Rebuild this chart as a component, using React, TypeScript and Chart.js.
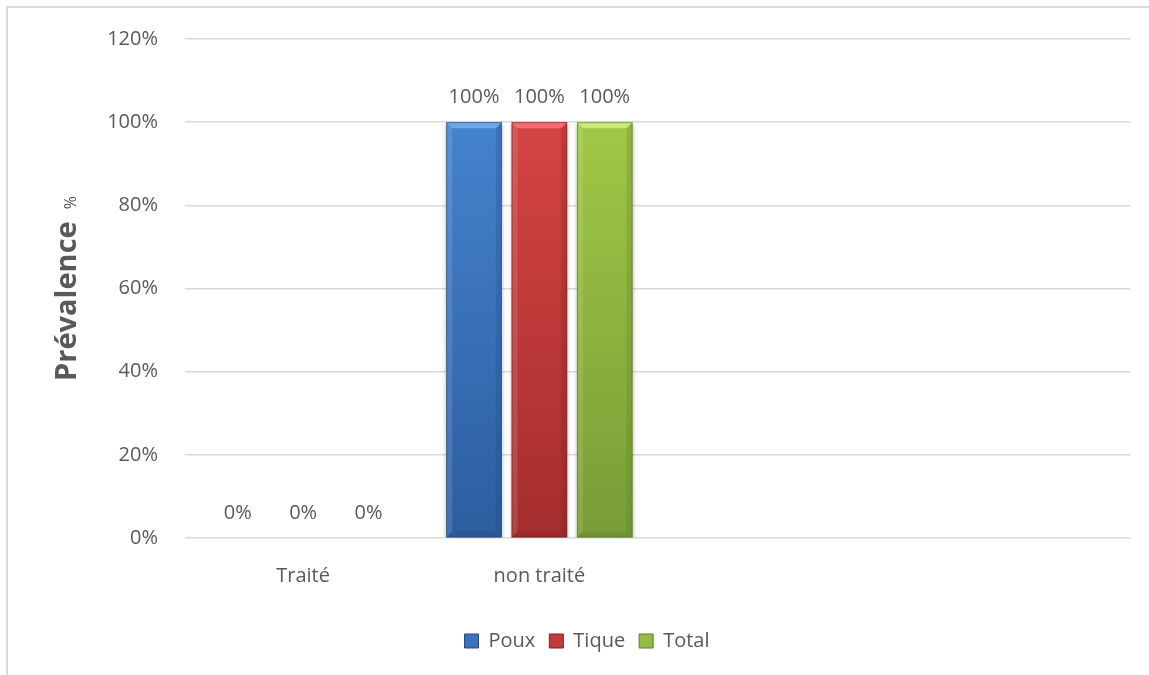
import React, { useEffect, useRef } from "react";
import { Chart, registerables } from "chart.js";

Chart.register(...registerables);

// ---- data ----
const categories = ["Traité", "non traité", "", ""];
const seriesNames = ["Poux", "Tique", "Total"];
const pouxValues = [0, 100, null, null];
const tiqueValues = [0, 100, null, null];
const totalValues = [0, 100, null, null];
const yMin = 0;
const yMax = 120;
const yStep = 20;
const yTitle = "Prévalence";
const yTitleUnit = "%";

// ---- styles ----
const FONT = "'Open Sans', 'Liberation Sans', sans-serif";
const TEXT = "#595959";
const FS = 20;
const palettes = [
  { top: "#4a8ad6", bottom: "#2c5d9f", light: "#6fa8ea", dark: "#24497c", legend: "#3a72be" },
  { top: "#de4848", bottom: "#a52d2d", light: "#f07070", dark: "#7f2020", legend: "#c63a3a" },
  { top: "#a8d04a", bottom: "#789c36", light: "#c8ea78", dark: "#5c7a28", legend: "#94bb42" },
];

export default function App() {
  const ref = useRef<HTMLCanvasElement | null>(null);

  useEffect(() => {
    const canvas = ref.current;
    if (!canvas) return;

    const seriesValues = [pouxValues, tiqueValues, totalValues];

    const framePlugin = {
      id: "frame",
      beforeDraw(chart: any) {
        const ctx = chart.ctx;
        ctx.save();
        ctx.fillStyle = "#ffffff";
        ctx.fillRect(0, 0, chart.width, chart.height);
        ctx.strokeStyle = "#d9d9d9";
        ctx.lineWidth = 2;
        ctx.beginPath();
        ctx.moveTo(7, chart.height);
        ctx.lineTo(7, 7);
        ctx.lineTo(chart.width, 7);
        ctx.stroke();
        ctx.restore();
      },
    };

    const barStylePlugin = {
      id: "barStyle",
      beforeDatasetsDraw(chart: any) {
        const ctx = chart.ctx;
        ctx.save();
        ctx.shadowColor = "rgba(0,0,0,0.3)";
        ctx.shadowBlur = 4;
        ctx.shadowOffsetY = 3;
      },
      afterDatasetsDraw(chart: any) {
        const ctx = chart.ctx;
        ctx.restore();
        chart.data.datasets.forEach((ds: any, di: number) => {
          const meta = chart.getDatasetMeta(di);
          const p = palettes[di];
          meta.data.forEach((el: any, i: number) => {
            const v = ds.data[i];
            if (v === null || v === undefined) return;
            const { x, y, base, width } = el.getProps(["x", "y", "base", "width"], true);
            const l = x - width / 2;
            const r = x + width / 2;
            const h = base - y;
            ctx.save();
            if (h > 12) {
              const b = 6;
              // top bevel
              ctx.fillStyle = p.light;
              ctx.beginPath();
              ctx.moveTo(l, y);
              ctx.lineTo(r, y);
              ctx.lineTo(r - b, y + b);
              ctx.lineTo(l + b, y + b);
              ctx.closePath();
              ctx.fill();
              // right bevel
              ctx.globalAlpha = 0.25;
              ctx.fillStyle = p.dark;
              ctx.beginPath();
              ctx.moveTo(r, y);
              ctx.lineTo(r, base);
              ctx.lineTo(r - b, base - b);
              ctx.lineTo(r - b, y + b);
              ctx.closePath();
              ctx.fill();
              // bottom bevel
              ctx.beginPath();
              ctx.moveTo(l, base);
              ctx.lineTo(r, base);
              ctx.lineTo(r - b, base - b);
              ctx.lineTo(l + b, base - b);
              ctx.closePath();
              ctx.fill();
              // left bevel
              ctx.globalAlpha = 0.12;
              ctx.fillStyle = "#ffffff";
              ctx.beginPath();
              ctx.moveTo(l, y);
              ctx.lineTo(l + b, y + b);
              ctx.lineTo(l + b, base - b);
              ctx.lineTo(l, base);
              ctx.closePath();
              ctx.fill();
              ctx.globalAlpha = 0.6;
              ctx.strokeStyle = p.dark;
              ctx.lineWidth = 1;
              ctx.strokeRect(l + 0.5, y + 0.5, width - 1, h - 1);
            }
            // value label
            ctx.globalAlpha = 1;
            ctx.fillStyle = TEXT;
            ctx.font = `${FS}px ${FONT}`;
            ctx.textAlign = "center";
            ctx.textBaseline = "middle";
            ctx.fillText(`${v}%`, x, y - 25);
            ctx.restore();
          });
        });
      },
    };

    const titlePlugin = {
      id: "yTitle",
      afterDraw(chart: any) {
        const ctx = chart.ctx;
        const area = chart.chartArea;
        const midY = (area.top + area.bottom) / 2;
        ctx.save();
        ctx.translate(76, midY);
        ctx.rotate(-Math.PI / 2);
        const bigFont = `bold 29px ${FONT}`;
        const smallFont = `16px ${FONT}`;
        ctx.font = bigFont;
        const w1 = ctx.measureText(yTitle).width;
        ctx.font = smallFont;
        const gap = 12;
        const w2 = ctx.measureText(yTitleUnit).width;
        const total = w1 + gap + w2;
        ctx.fillStyle = TEXT;
        ctx.textBaseline = "alphabetic";
        ctx.textAlign = "left";
        ctx.font = bigFont;
        ctx.fillText(yTitle, -total / 2, 0);
        ctx.font = smallFont;
        ctx.fillText(yTitleUnit, -total / 2 + w1 + gap, 0);
        ctx.restore();
      },
    };

    const makeGradient = (di: number) => (c: any) => {
      const chart = c.chart;
      const area = chart.chartArea;
      const p = palettes[di];
      if (!area) return p.legend;
      const g = chart.ctx.createLinearGradient(0, area.top, 0, area.bottom);
      g.addColorStop(0, p.top);
      g.addColorStop(1, p.bottom);
      return g;
    };

    const chart = new Chart(canvas, {
      type: "bar",
      data: {
        labels: categories,
        datasets: seriesNames.map((name, di) => ({
          label: name,
          data: seriesValues[di],
          backgroundColor: makeGradient(di),
          borderWidth: 0,
          categoryPercentage: 0.83,
          barPercentage: 0.85,
        })),
      },
      options: {
        animation: false,
        responsive: false,
        devicePixelRatio: 1,
        layout: { padding: { top: 37, right: 19, left: 44, bottom: 14 } },
        scales: {
          x: {
            grid: { display: false, drawTicks: false },
            border: { display: false },
            ticks: { color: TEXT, font: { family: FONT, size: FS }, padding: 26 },
            afterFit: (s: any) => {
              s.height = 79;
            },
          },
          y: {
            min: yMin,
            max: yMax,
            ticks: {
              stepSize: yStep,
              color: TEXT,
              font: { family: FONT, size: FS },
              padding: 27,
              callback: (v: any) => `${v}%`,
            },
            grid: { color: "#d9d9d9", lineWidth: 1.5, drawTicks: false },
            border: { display: false },
            afterFit: (s: any) => {
              s.width = 141;
            },
          },
        },
        plugins: {
          tooltip: { enabled: false },
          legend: {
            position: "bottom",
            labels: {
              color: TEXT,
              font: { family: FONT, size: FS },
              boxWidth: 14,
              boxHeight: 14,
              padding: 14,
              generateLabels: (ch: any) =>
                ch.data.datasets.map((ds: any, i: number) => ({
                  text: ds.label,
                  fillStyle: palettes[i].legend,
                  strokeStyle: palettes[i].dark,
                  lineWidth: 1,
                  hidden: false,
                  datasetIndex: i,
                  fontColor: TEXT,
                })),
            },
          },
        },
      },
      plugins: [framePlugin, barStylePlugin, titlePlugin],
    } as any);

    return () => chart.destroy();
  }, []);

  return (
    <div style={{ position: "fixed", left: 0, top: 0, width: 1149, height: 675 }}>
      <canvas ref={ref} width={1149} height={675} style={{ display: "block", width: 1149, height: 675 }} />
    </div>
  );
}
